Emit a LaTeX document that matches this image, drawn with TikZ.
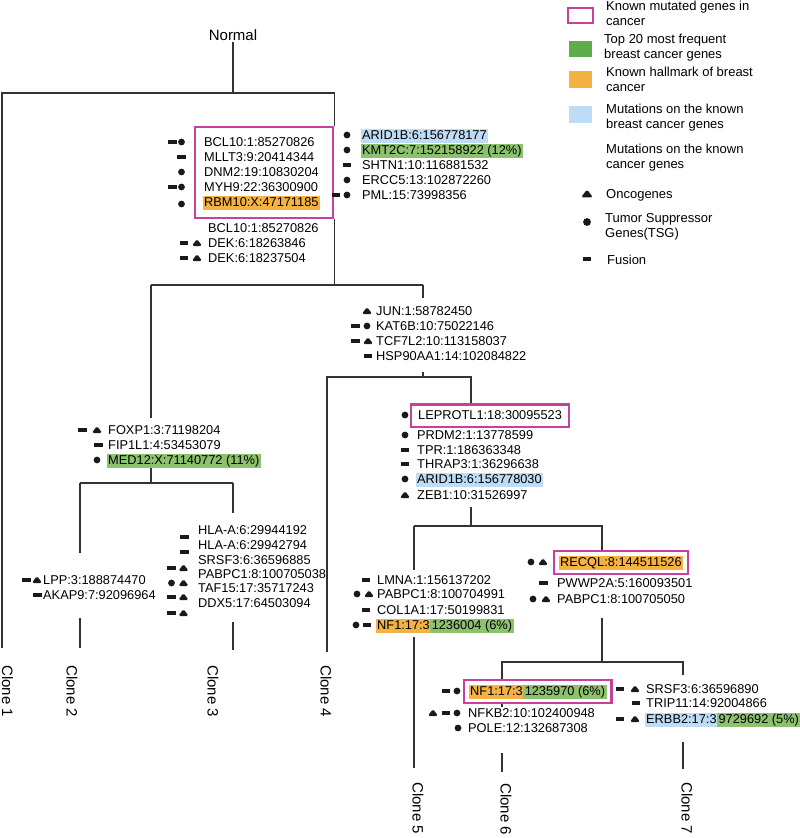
\documentclass[tikz,border=0pt]{standalone}
\usepackage{fontspec}
\setmainfont{Liberation Sans}
\usetikzlibrary{fit}

\definecolor{kpink}{HTML}{C8409A}
\definecolor{leggreen}{HTML}{5DAE4B}
\definecolor{greenhl}{HTML}{8CC26E}
\definecolor{orangehl}{HTML}{F4B244}
\definecolor{bluehl}{HTML}{BEDDF4}
\definecolor{treeline}{HTML}{333333}
\definecolor{iconfill}{HTML}{1A1A1A}

\newcommand\genefont{\fontsize{12.8}{15}\selectfont}
\newcommand\legfont{\fontsize{13}{15}\selectfont}
\newcommand\clonefont{\fontsize{15}{18}\selectfont}

\tikzset{
  gene/.style={anchor=base west, font=\genefont, inner xsep=1.5pt, inner ysep=1pt,
    text height=9.5pt, text depth=2.5pt},
  legtext/.style={anchor=base west, font=\legfont, inner sep=0pt},
  legsq/.style={minimum width=23pt, minimum height=16.5pt, inner sep=0pt},
  kbox/.style={draw=kpink, line width=2.4pt},
  branch/.style={draw=treeline, line width=1.3pt},
  clonelabel/.style={rotate=-90, anchor=west, font=\clonefont, inner sep=0pt},
  fus/.pic={\fill[iconfill] (-4.2,-2.3) rectangle (4.2,2.3);},
  tsg/.pic={\fill[iconfill] (0,0) circle (3.4);},
  onc/.pic={\fill[iconfill, rounded corners=1.8pt] (-5.2,3) -- (5.2,3) -- (0,-4) -- cycle;},
}

\begin{document}
\begin{tikzpicture}[x=1pt,y=-1pt]
\useasboundingbox (0,0) rectangle (800,838);

% legend
\node[kbox, minimum width=25pt, minimum height=15pt, inner sep=0pt] (lkbox) at (580.5,15.5) {};
\node[legsq, fill=leggreen] (lgreen) at (580.5,49) {};
\node[legsq, fill=orangehl] (lorange) at (580.5,79.5) {};
\node[legsq, fill=bluehl] (lblue) at (580.5,114.5) {};
\node[legtext] (l1a) at (606,10) {Known mutated genes in};
\node[legtext] (l1b) at (606,25) {cancer};
\node[legtext] (l2a) at (604,43) {Top 20 most frequent};
\node[legtext] (l2b) at (604,58) {breast cancer genes};
\node[legtext] (l3a) at (606,76) {Known hallmark of breast};
\node[legtext] (l3b) at (606,91) {cancer};
\node[legtext] (l4a) at (606,113) {Mutations on the known};
\node[legtext] (l4b) at (606,128) {breast cancer genes};
\node[legtext] (l5a) at (606,153) {Mutations on the known};
\node[legtext] (l5b) at (606,168) {cancer genes};
\node[legtext] (l6) at (606,198) {Oncogenes};
\node[legtext] (l7a) at (605,222) {Tumor Suppressor};
\node[legtext] (l7b) at (605,237) {Genes(TSG)};
\node[legtext] (l8) at (607,264) {Fusion};
\pic[scale=1.15] at (587,194) {onc};
\pic[scale=1.15] at (587,222) {tsg};
\pic at (587,259) {fus};

% root and first split
\node[font=\clonefont, inner sep=1pt] (normal) at (233,35) {Normal};
\node[kbox, anchor=north west, minimum width=138pt, minimum height=91pt, inner sep=0pt] (box1) at (194,126) {};
\node[gene] (bcl10a) at (202.5,146) {BCL10:1:85270826};
\node[gene] (mllt3) at (202.5,161) {MLLT3:9:20414344};
\node[gene] (dnm2) at (202.5,176) {DNM2:19:10830204};
\node[gene] (myh9) at (202.5,191) {MYH9:22:36300900};
\node[gene, fill=orangehl] (rbm10) at (202.5,206) {RBM10:X:47171185};
\node[gene] (bcl10b) at (206.5,232) {BCL10:1:85270826};
\node[gene] (dek1) at (206.5,247) {DEK:6:18263846};
\node[gene] (dek2) at (206.5,262) {DEK:6:18237504};
\node[gene, fill=bluehl] (arid1b1) at (360.5,139) {ARID1B:6:156778177};
\node[gene, fill=greenhl] (kmt2c) at (360.5,154) {KMT2C:7:152158922 (12\%)};
\node[gene] (shtn1) at (360.5,169) {SHTN1:10:116881532};
\node[gene] (ercc5) at (360.5,184) {ERCC5:13:102872260};
\node[gene] (pml) at (360.5,199) {PML:15:73998356};
\pic at (172.5,142) {fus}; \pic at (181.5,142) {tsg};
\pic at (181.5,157) {fus};
\pic at (181.5,172) {tsg};
\pic at (172.5,187) {fus}; \pic at (181.5,187) {tsg};
\pic at (181.5,204) {tsg};
\pic at (184,243) {fus}; \pic at (197,243) {onc};
\pic at (184,258) {fus}; \pic at (197,258) {onc};
\pic at (347,135) {tsg};
\pic at (347,150) {tsg};
\pic at (347,165) {fus};
\pic at (347,180) {tsg};
\pic at (336,195) {fus}; \pic at (347,195) {tsg};

% JUN branch
\node[gene] (jun) at (374.5,315) {JUN:1:58782450};
\node[gene] (kat6b) at (374.5,330) {KAT6B:10:75022146};
\node[gene] (tcf7l2) at (374.5,345) {TCF7L2:10:113158037};
\node[gene] (hsp90) at (374.5,360) {HSP90AA1:14:102084822};
\pic at (367,311) {onc};
\pic at (355.5,326) {fus}; \pic at (367,326) {tsg};
\pic at (355.5,341) {fus}; \pic at (368,341) {onc};
\pic at (368,356) {fus};

% FOXP1 branch
\node[gene] (foxp1) at (106.5,434) {FOXP1:3:71198204};
\node[gene] (fip1l1) at (106.5,449) {FIP1L1:4:53453079};
\node[gene, fill=greenhl] (med12) at (106.5,464) {MED12:X:71140772 (11\%)};
\pic at (82.5,430) {fus}; \pic at (97,430) {onc};
\pic at (98.5,445) {fus};
\pic at (97,460) {tsg};

% clone 2
\node[gene] (lpp) at (41.5,584) {LPP:3:188874470};
\node[gene] (akap9) at (41.5,599) {AKAP9:7:92096964};
\pic at (26.5,580) {fus}; \pic at (37,580) {onc};
\pic at (37.5,595) {fus};

% clone 3
\node[gene] (hla1) at (196.5,534) {HLA-A:6:29944192};
\node[gene] (hla2) at (196.5,549) {HLA-A:6:29942794};
\node[gene] (srsf3a) at (196.5,564) {SRSF3:6:36596885};
\node[gene] (pabpc1a) at (196.5,578) {PABPC1:8:100705038};
\node[gene] (taf15) at (196.5,592) {TAF15:17:35717243};
\node[gene] (ddx5) at (196.5,607) {DDX5:17:64503094};
\pic at (184.5,537) {fus};
\pic at (184.5,552) {fus};
\pic at (171.5,568) {fus}; \pic at (183.5,568) {onc};
\pic at (171.5,583) {tsg}; \pic at (183.5,583) {onc};
\pic at (171.5,597) {fus}; \pic at (183.5,597) {onc};
\pic at (171.5,613) {fus}; \pic at (183.5,613) {onc};

% LEPROTL1 branch
\node[gene] (leprotl1) at (416.5,419) {LEPROTL1:18:30095523};
\node[kbox, fit=(leprotl1), inner xsep=5.5pt, inner ysep=4pt] (box2) {};
\node[gene] (prdm2) at (415.5,439) {PRDM2:1:13778599};
\node[gene] (tpr) at (415.5,454) {TPR:1:186363348};
\node[gene] (thrap3) at (415.5,468) {THRAP3:1:36296638};
\node[gene, fill=bluehl] (arid1b2) at (415.5,483) {ARID1B:6:156778030};
\node[gene] (zeb1) at (415.5,499) {ZEB1:10:31526997};
\pic at (405,415) {tsg};
\pic at (405,435) {tsg};
\pic at (405,450) {fus};
\pic at (405,464) {fus};
\pic at (405,479) {tsg};
\pic at (405,495) {onc};

% clone 5
\node[gene] (lmna) at (375.5,584) {LMNA:1:156137202};
\node[gene] (pabpc1b) at (375.5,598) {PABPC1:8:100704991};
\node[gene] (col1a1) at (375.5,614) {COL1A1:17:50199831};
\node[gene, fill=orangehl] (nf1a) at (375.5,629) {NF1:17:3};
\node[gene, fill=greenhl, xshift=-1.5pt] (nf1a2) at (nf1a.base east) {1236004 (6\%)};
\pic at (366,580) {fus};
\pic at (357,594) {tsg}; \pic at (369,594) {onc};
\pic at (366,610) {fus};
\pic at (356,625) {tsg}; \pic at (367,625) {fus};

% RECQL branch
\node[gene, fill=orangehl] (recql) at (558.5,566) {RECQL:8:144511526};
\node[kbox, fit=(recql), inner sep=4.5pt] (box3) {};
\node[gene] (pwwp2a) at (555.5,587) {PWWP2A:5:160093501};
\node[gene] (pabpc1c) at (555.5,603) {PABPC1:8:100705050};
\pic at (531,562) {tsg}; \pic at (543,562) {onc};
\pic at (543.5,583) {fus};
\pic at (533,599) {tsg}; \pic at (546,599) {onc};

% clone 6
\node[gene, fill=orangehl] (nf1b) at (468.5,695) {NF1:17:3};
\node[gene, fill=greenhl, xshift=-1.5pt] (nf1b2) at (nf1b.base east) {1235970 (6\%)};
\node[kbox, fit=(nf1b)(nf1b2), inner sep=4.5pt] (box4) {};
\node[gene] (nfkb2) at (466.5,717) {NFKB2:10:102400948};
\node[gene] (pole) at (466.5,732) {POLE:12:132687308};
\pic at (446,691) {fus}; \pic at (457,691) {tsg};
\pic at (433,713) {onc}; \pic at (446,713) {fus}; \pic at (457,713) {tsg};
\pic at (458,728) {tsg};

% clone 7
\node[gene] (srsf3b) at (644.5,693) {SRSF3:6:36596890};
\node[gene] (trip11) at (644.5,707) {TRIP11:14:92004866};
\node[gene, fill=bluehl] (erbb2) at (644.5,723) {ERBB2:17:3};
\node[gene, fill=greenhl, xshift=-1.5pt] (erbb22) at (erbb2.base east) {9729692 (5\%)};
\pic at (620,689) {fus}; \pic at (635,689) {onc};
\pic at (636,703) {fus};
\pic at (620,719) {fus}; \pic at (635,719) {onc};

% tree
\coordinate (top) at (233,93);
\coordinate (t1) at (2,93);
\coordinate (e1) at (2,648);
\draw[branch] (normal) -- (top);
\draw[branch] (e1) -- (t1) -- (t1 -| box1.north east) -- (box1.north east);
\coordinate (j1l) at (151,285);
\coordinate (j1r) at (423,285);
\draw[branch] (box1.south east) -- (box1.south east |- j1l);
\draw[branch] (j1l) -- (j1r);
\coordinate (f1) at (151,418);
\coordinate (f2) at (151,468);
\coordinate (j2) at (151,483);
\draw[branch] (j1l) -- (f1);
\draw[branch] (f2) -- (j2);
\coordinate (j2l) at (80,483);
\coordinate (j2r) at (233,483);
\draw[branch] (j2l) -- (j2r);
\coordinate (c2a) at (80,553);
\coordinate (c2b) at (80,618);
\coordinate (e2) at (80,648);
\draw[branch] (j2l) -- (c2a);
\draw[branch] (c2b) -- (e2);
\coordinate (c3a) at (233,513);
\coordinate (c3b) at (233,622);
\coordinate (e3) at (233,650);
\draw[branch] (j2r) -- (c3a);
\draw[branch] (c3b) -- (e3);
\coordinate (b1) at (423,298);
\coordinate (b2) at (423,372);
\coordinate (j3) at (423,377);
\draw[branch] (j1r) -- (b1);
\draw[branch] (b2) -- (j3);
\coordinate (j3l) at (327,377);
\coordinate (j3r) at (471,377);
\coordinate (e4) at (327,652);
\draw[branch] (e4) -- (j3l) -- (j3r) -- (j3r |- box2.north);
\coordinate (g1) at (471,507);
\coordinate (j4) at (471,526);
\draw[branch] (g1) -- (j4);
\coordinate (j4l) at (414,526);
\coordinate (j4r) at (602,526);
\draw[branch] (j4l) -- (j4r) -- (j4r |- box3.north);
\coordinate (c5a) at (414,570);
\coordinate (c5b) at (414,637);
\coordinate (e5) at (414,768);
\draw[branch] (j4l) -- (c5a);
\draw[branch] (c5b) -- (e5);
\coordinate (h1) at (602,618);
\coordinate (j5) at (602,662);
\draw[branch] (h1) -- (j5);
\coordinate (j5l) at (502,662);
\coordinate (j5r) at (683,662);
\coordinate (c7a) at (683,675);
\draw[branch] (j5l |- box4.north) -- (j5l) -- (j5r) -- (c7a);
\coordinate (c6a) at (502,707);
\coordinate (c6b) at (502,753);
\coordinate (e6) at (502,772);
\draw[branch] (j5l |- box4.south) -- (c6a);
\draw[branch] (c6b) -- (e6);
\coordinate (c7b) at (683,742);
\coordinate (e7) at (683,769);
\draw[branch] (c7b) -- (e7);

% clone labels
\node[clonelabel] (clone1) at (7.5,665) {Clone 1};
\node[clonelabel] (clone2) at (72,665) {Clone 2};
\node[clonelabel] (clone3) at (213,665) {Clone 3};
\node[clonelabel] (clone4) at (326,665) {Clone 4};
\node[clonelabel] (clone5) at (418,782) {Clone 5};
\node[clonelabel] (clone6) at (506,783) {Clone 6};
\node[clonelabel] (clone7) at (687,782) {Clone 7};
\end{tikzpicture}
\end{document}
